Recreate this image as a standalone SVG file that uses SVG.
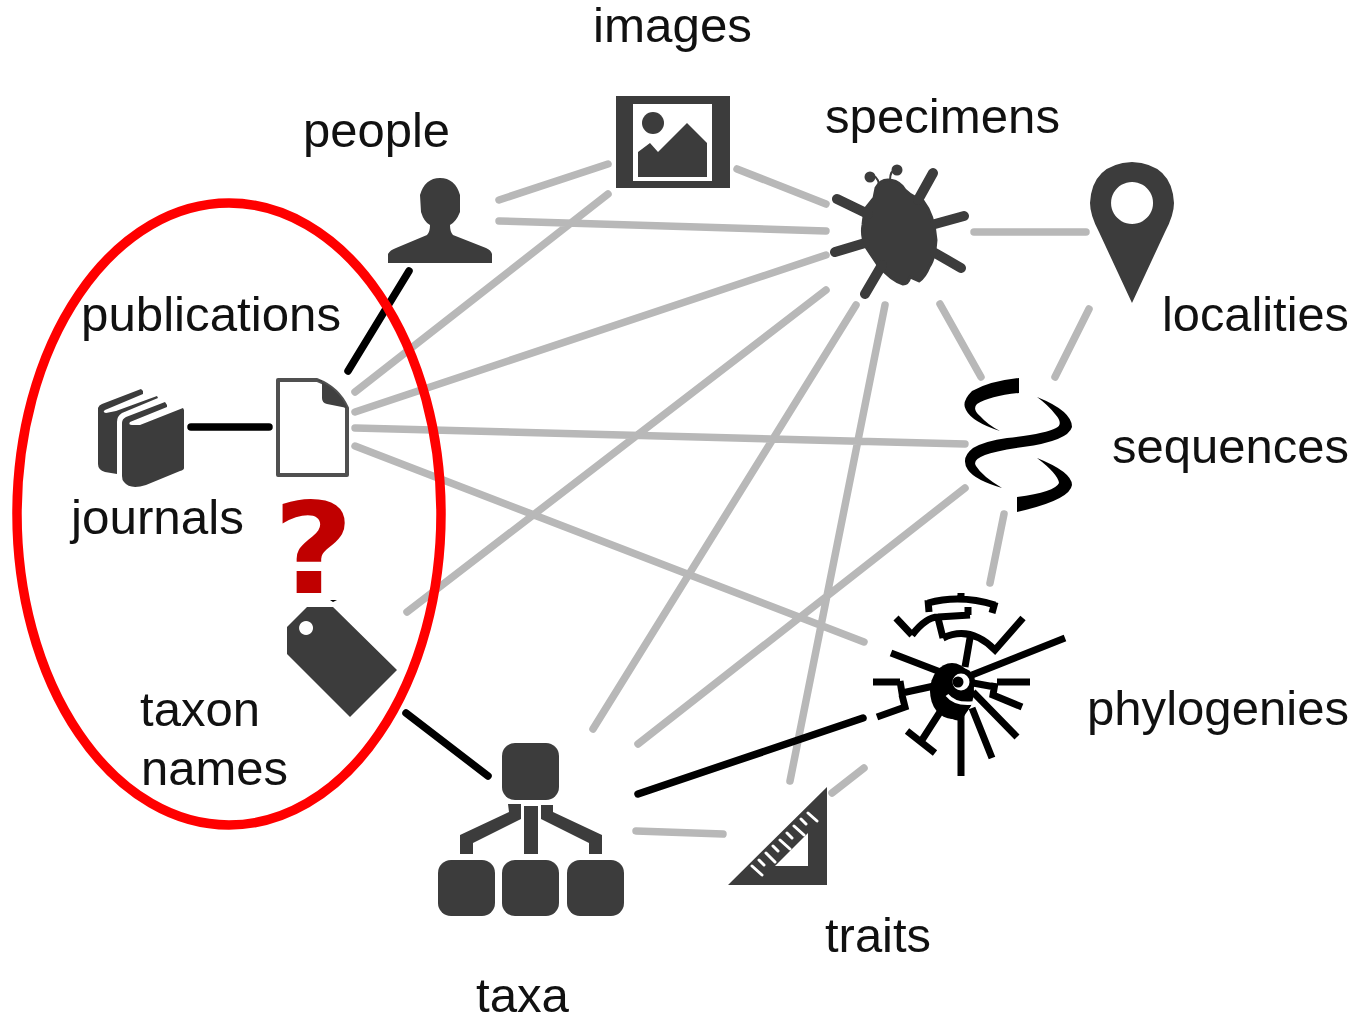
<svg xmlns="http://www.w3.org/2000/svg" width="1365" height="1022" viewBox="0 0 1365 1022">
<style>
text{font-family:"Liberation Sans",Arial,sans-serif;font-size:47.5px;fill:#111}
.g{stroke:#b8b8b8;stroke-width:7.5;stroke-linecap:round;fill:none}
.k{stroke:#000;stroke-width:7.5;stroke-linecap:round;fill:none}
.d{fill:#3c3c3c}
.t{stroke:#000;stroke-width:7;fill:none}
</style>
<rect width="1365" height="1022" fill="#fff"/>
<g id="connectors">
<path class="g" d="M499 200L608 164M499 221L826 231M737 169L826 204M355 392L608 194M355 412L826 255M355 428L965 444M355 446L864 642M407 612L826 290M593 729L856 305M638 744L965 488M790 781L885 305M636 831L723 834M832 793L864 768M974 232L1086 232M940 304L981 377M1089 309L1055 377M1004 514L990 583"/>
<path class="k" d="M348 371L409 271M191 427L269 427M406 713L488 776M638 794L863 718"/>
</g>
<g id="images"><path class="d" fill-rule="evenodd" d="M616 96H730V188H616ZM633 104V181H712V104Z"/><path class="d" d="M638 177V152L650 143L658 152L687 123L707 143V177Z"/><circle class="d" cx="653" cy="123" r="11"/></g>
<g id="people"><path class="d" d="M388 263V254Q390 250 396 248L427 235Q430 232 430 225Q424 222 421 212L420 195Q425 178 440 178Q455 178 460 195L460 212Q456 222 450 225Q450 232 453 235L486 248Q491 250 492 254V263Z"/></g>
<g id="specimens"><path class="d" stroke="#3c3c3c" stroke-width="3" stroke-linejoin="round" d="M876 188Q880 180 888 180Q896 180 902 186Q906 194 923 201Q934 215 936 240Q935 258 929 267Q925 277 919 281L910 277Q908 284 903 284Q892 281 878 265L866 247Q861 235 863 225Q864 214 866 208L874 198Z"/><circle class="d" cx="870" cy="177" r="5.5"/><circle class="d" cx="897" cy="170" r="5.5"/><path fill="none" stroke="#3c3c3c" stroke-width="2" d="M870 175Q877 175 879 184M897 169Q890 170 890 180"/><path stroke="#3c3c3c" stroke-width="10" stroke-linecap="round" d="M837 199L868 214M933 173L918 200M964 216L935 224M961 268L935 253M835 252L865 243M865 294L882 265"/></g>
<g id="localities"><path class="d" fill-rule="evenodd" d="M1132 303L1099 232Q1090 215 1090 203Q1092 164 1132 162Q1172 164 1174 203Q1174 215 1165 232ZM1132 182a21 21 0 1 0 .1 0Z"/></g>
<g id="sequences"><path d="M1019 378V393Q990 396 977 404Q972 409 980 416Q988 425 1000 431Q972 422 966 410Q961 402 972 391Q990 381 1019 378ZM1037 397Q1072 411 1072 427Q1068 441 1023 447Q995 451 985 455Q972 460 976 466Q982 476 1002 488Q975 480 968 470Q960 458 973 448Q985 441 1007 438Q1045 434 1056 428Q1064 424 1055 414Q1048 405 1037 397ZM1037 458Q1072 472 1072 485Q1070 500 1017 512V497Q1055 492 1059 483Q1058 474 1037 458Z"/></g>
<g id="publications"><path fill="#fff" stroke="#505050" stroke-width="4" stroke-linejoin="round" d="M278 380H317Q338 388 347 408V475H278Z"/><path fill="#404040" d="M317 380Q338 388 347 408L327 404Q322 403 322 398V380Z"/></g>
<g id="journals"><path class="d" d="M98 408Q99 405 102 404L141 389L143 391V394L105 410Q102 412 106 413L116 411L157 396L158 398L122 413Q117 416 117 422V474L105 472Q98 470 98 464Z"/><path class="d" d="M122 423Q122 419 126 417L165 402L167 405V407L130 422Q128 425 132 425L140 425L183 408L184 410V468Q184 470 180 471L146 485Q130 490 124 482Q122 480 122 476Z"/></g>
<g id="taxon-names"><path class="d" fill-rule="evenodd" d="M287 627L307 607H333L397 670L350 717L287 654ZM306 621a7 7 0 1 0 .1 0Z"/><path d="M330 600H337L333 602Z"/></g>
<g id="taxa"><rect class="d" x="502" y="743" width="57" height="57" rx="13"/><rect class="d" x="438" y="860" width="57" height="56" rx="13"/><rect class="d" x="502" y="860" width="57" height="56" rx="13"/><rect class="d" x="567" y="860" width="57" height="56" rx="13"/><path class="d" d="M524 806H538V854H524ZM508 804H521V819L473 843V854H460V835L509 812ZM541 805H553V812L602 835V854H589V843L541 819Z"/></g>
<g id="traits"><path class="d" fill-rule="evenodd" d="M827 787V885H728ZM808 833L775 866H808Z"/><path stroke="#fff" stroke-width="3" stroke-linecap="round" d="M752 866L762 875M759 860L764 865M766 853L775 862M773 846L778 851M780 840L790 849M787 833L792 838M794 826L804 835M801 819L806 824M808 813L817 821"/></g>
<g id="phylogenies"><ellipse cx="952" cy="691" rx="22" ry="28"/><circle cx="961" cy="682" r="14"/><path d="M945 705L972 704L961 721Q948 720 940 710Z"/><path fill="none" stroke="#fff" stroke-width="3.5" d="M947 695Q955 705 973 703"/><circle cx="961" cy="682" r="8.5" fill="#fff"/><circle cx="958" cy="682" r="5.5"/>
<path class="t" d="M972 675L1065 638M943 673L891 653M965 667L970 638M943 638Q970 625 995 650L1023 618M943 638L938 618M912 635Q926 617 938 617L970 615M912 635L896 618M968 607V615M928 603Q960 594 995 605M928 600L929 612M995 602L992 613M961 593V600M934 686L902 693L900 681M900 682H873M902 695L905 707L877 717M940 712L922 740M907 731L935 753M961 713V776M972 708L992 758M973 692L1017 737M973 683L995 687M997 682H1030M995 683L993 695L1022 707"/></g>
<g id="labels" style="" >
<text x="593" y="42" textLength="159" lengthAdjust="spacingAndGlyphs">images</text>
<text x="303" y="147" textLength="147" lengthAdjust="spacingAndGlyphs">people</text>
<text x="825" y="133" textLength="235" lengthAdjust="spacingAndGlyphs">specimens</text>
<text x="1162" y="331" textLength="187" lengthAdjust="spacingAndGlyphs">localities</text>
<text x="81" y="330.500" textLength="260" lengthAdjust="spacingAndGlyphs">publications</text>
<text x="1112" y="463" textLength="237" lengthAdjust="spacingAndGlyphs">sequences</text>
<text x="71" y="534" textLength="173" lengthAdjust="spacingAndGlyphs">journals</text>
<text x="1087" y="725" textLength="262" lengthAdjust="spacingAndGlyphs">phylogenies</text>
<text x="140" y="725.500" textLength="120" lengthAdjust="spacingAndGlyphs">taxon</text>
<text x="141" y="784.500" textLength="147" lengthAdjust="spacingAndGlyphs">names</text>
<text x="825" y="952" textLength="106" lengthAdjust="spacingAndGlyphs">traits</text>
<text x="476" y="1011.500" textLength="93" lengthAdjust="spacingAndGlyphs">taxa</text>
</g>
<ellipse id="highlight" cx="229" cy="514" rx="212" ry="311" fill="none" stroke="#f00" stroke-width="9.500"/>
<text id="question" transform="translate(273 593) scale(1.21 1.1)" style="font-family:'DejaVu Sans',sans-serif;font-weight:bold;font-size:115px;fill:#c00000">?</text>
</svg>
